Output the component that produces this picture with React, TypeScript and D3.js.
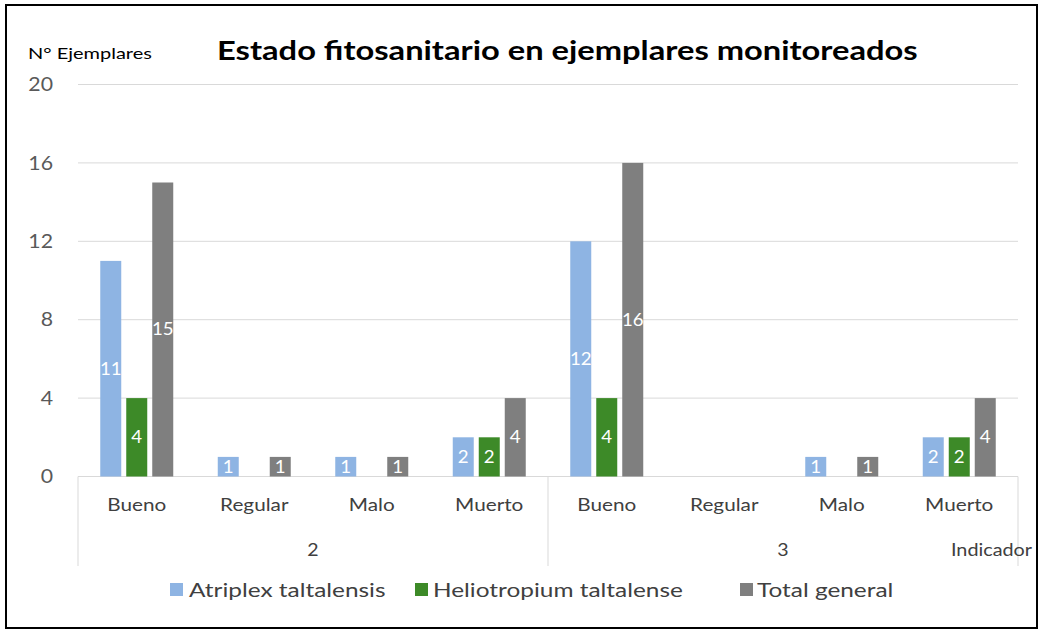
import React from "react";
import * as d3 from "d3";

const groups = ["2", "3"];
const states = ["Bueno", "Regular", "Malo", "Muerto"];
const seriesNames = ["Atriplex taltalensis", "Heliotropium taltalense", "Total general"];
const seriesColors = ["#8EB4E3", "#3D8A28", "#7F7F7F"];
const atriplex = [11, 1, 1, 2, 12, 0, 1, 2];
const heliotropium = [4, 0, 0, 2, 4, 0, 0, 2];
const totalGeneral = [15, 1, 1, 4, 16, 0, 1, 4];
const yTicks = [0, 4, 8, 12, 16, 20];

const W = 1039;
const H = 630;
const FONT = "Lato, 'Open Sans', sans-serif";

function ST(props: {
  x: number;
  y: number;
  sx?: number;
  anchor?: "start" | "middle" | "end";
  size: number;
  fill: string;
  weight?: string;
  dy?: string;
  children: React.ReactNode;
}) {
  const { x, y, sx = 1, anchor = "start", size, fill, weight, dy, children } = props;
  return (
    <text
      transform={`translate(${x},${y}) scale(${sx},1)`}
      textAnchor={anchor}
      fontSize={size}
      fill={fill}
      fontWeight={weight}
      dy={dy}
    >
      {children}
    </text>
  );
}

export default function App() {
  const left = 78;
  const right = 1018;
  const top = 84.5;
  const bottom = 476.5;
  const cats = groups.flatMap((g) => states.map((s) => `${g}|${s}`));
  const x = d3.scaleBand<string>().domain(cats).range([left, right]).padding(0);
  const inner = d3
    .scaleBand<string>()
    .domain(seriesNames)
    .range([0, x.bandwidth()])
    .paddingInner(5 / 26)
    .paddingOuter(0.856);
  const y = d3.scaleLinear().domain([0, 20]).range([bottom, top]);
  const values = [atriplex, heliotropium, totalGeneral];
  const groupW = (right - left) / groups.length;

  return (
    <svg
      width={W}
      height={H}
      style={{ position: "absolute", left: 0, top: 0, background: "#fff" }}
      fontFamily={FONT}
    >
      <rect x={6} y={5} width={1031} height={623} fill="#fff" stroke="#000" strokeWidth={2} />
      <ST x={217} y={60} sx={1.21} size={27} weight="bold" fill="#000">
        Estado fitosanitario en ejemplares monitoreados
      </ST>
      <ST x={28} y={59} sx={1.25} size={16} fill="#000">
        N° Ejemplares
      </ST>
      {yTicks.map((t) => (
        <g key={t}>
          {t > 0 && (
            <line x1={left} x2={right} y1={y(t)} y2={y(t)} stroke="#D9D9D9" strokeWidth={1} />
          )}
          <ST x={53} y={y(t)} dy="0.35em" sx={1.12} anchor="end" size={19} fill="#595959">
            {t}
          </ST>
        </g>
      ))}
      {/* category axis */}
      <line x1={left} x2={right} y1={bottom} y2={bottom} stroke="#D9D9D9" />
      {d3.range(groups.length + 1).map((i) => (
        <line
          key={i}
          x1={left + i * groupW}
          x2={left + i * groupW}
          y1={bottom}
          y2={566}
          stroke="#D9D9D9"
        />
      ))}
      {cats.map((c) => (
        <ST
          key={c}
          x={(x(c) as number) + x.bandwidth() / 2}
          y={511}
          anchor="middle"
          sx={1.22}
          size={17}
          fill="#404040"
        >
          {c.split("|")[1]}
        </ST>
      ))}
      {groups.map((g, i) => (
        <ST key={g} x={left + i * groupW + groupW / 2} y={556} anchor="middle" sx={1.15} size={17} fill="#404040">
          {g}
        </ST>
      ))}
      <ST x={1032} y={556} anchor="end" sx={1.1} size={18} fill="#404040">
        Indicador
      </ST>
      {/* bars */}
      {values.map((vals, si) =>
        vals.map((v, ci) => {
          if (!v) return null;
          const bx = (x(cats[ci]) as number) + (inner(seriesNames[si]) as number);
          const bw = inner.bandwidth();
          return (
            <g key={`${si}-${ci}`}>
              <rect x={bx} y={y(v)} width={bw} height={y(0) - y(v)} fill={seriesColors[si]} />
              <ST
                x={bx + bw / 2}
                y={(y(v) + y(0)) / 2}
                dy="0.35em"
                anchor="middle"
                sx={1.1}
                size={17}
                fill="#fff"
              >
                {v}
              </ST>
            </g>
          );
        })
      )}
      {/* legend */}
      {[
        { x: 170, tx: 189 },
        { x: 415, tx: 433 },
        { x: 740, tx: 757 },
      ].map((p, i) => (
        <g key={i}>
          <rect x={p.x} y={583} width={13} height={13} fill={seriesColors[i]} />
          <ST x={p.tx} y={590} dy="0.35em" sx={1.22} size={20} fill="#404040">
            {seriesNames[i]}
          </ST>
        </g>
      ))}
    </svg>
  );
}
